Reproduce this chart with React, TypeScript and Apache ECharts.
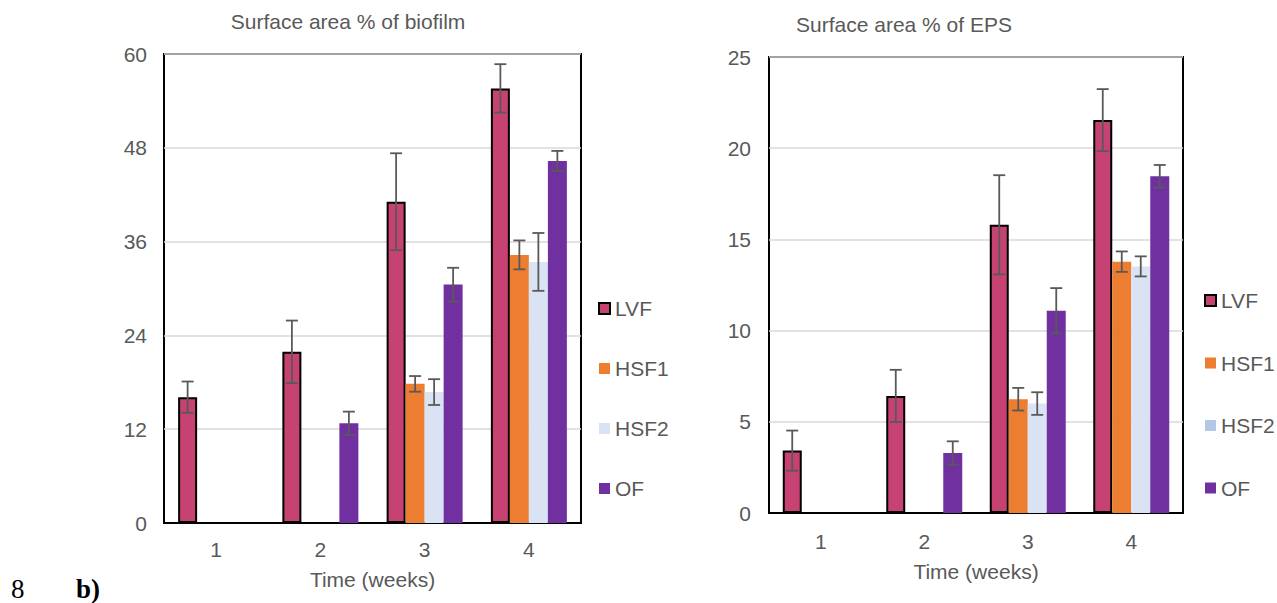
import React, { useEffect, useRef } from "react";
import * as echarts from "echarts";

const weeks = ["1", "2", "3", "4"];
const seriesNames = ["LVF", "HSF1", "HSF2", "OF"];

// Surface area % of biofilm
const bioLVF = [16.1, 21.9, 41.1, 55.6];
const bioHSF1 = [null, null, 17.8, 34.3];
const bioHSF2 = [null, null, 16.75, 33.4];
const bioOF = [null, 12.75, 30.5, 46.3];
const bioErrLVF = [2.0, 4.0, 6.2, 3.1];
const bioErrHSF1 = [null, null, 1.0, 1.85];
const bioErrHSF2 = [null, null, 1.65, 3.7];
const bioErrOF = [null, 1.5, 2.15, 1.3];

// Surface area % of EPS
const epsLVF = [3.42, 6.42, 15.8, 21.54];
const epsHSF1 = [null, null, 6.24, 13.78];
const epsHSF2 = [null, null, 6.0, 13.52];
const epsOF = [null, 3.29, 11.09, 18.46];
const epsErrLVF = [1.1, 1.43, 2.72, 1.7];
const epsErrHSF1 = [null, null, 0.62, 0.56];
const epsErrHSF2 = [null, null, 0.62, 0.55];
const epsErrOF = [null, 0.64, 1.24, 0.62];

const colors = ["#C64272", "#ED7D31", "#DAE3F3", "#7030A0"];
const textColor = "#595959";
const font = "Liberation Sans, Arial, sans-serif";
const BAR_W = 19;

function errData(vals: (number | null)[][], errs: (number | null)[][]) {
  const out: number[][] = [];
  vals.forEach((arr, si) => {
    arr.forEach((v, ci) => {
      const e = errs[si][ci];
      if (v != null && e != null) out.push([ci, v - e, v + e, si]);
    });
  });
  return out;
}

function renderErr(params: any, api: any) {
  const ci = api.value(0);
  const lo = api.value(1);
  const hi = api.value(2);
  const si = api.value(3);
  const x = api.coord([ci, 0])[0] + (si - 1.5) * BAR_W;
  const y1 = api.coord([ci, lo])[1];
  const y2 = api.coord([ci, hi])[1];
  const cap = 6;
  const st = { stroke: "#595959", lineWidth: 1.8 };
  return {
    type: "group",
    children: [
      { type: "line", shape: { x1: x, y1: y1, x2: x, y2: y2 }, style: st },
      { type: "line", shape: { x1: x - cap, y1: y1, x2: x + cap, y2: y1 }, style: st },
      { type: "line", shape: { x1: x - cap, y1: y2, x2: x + cap, y2: y2 }, style: st },
    ],
  };
}

export default function App() {
  const ref = useRef<HTMLDivElement>(null);
  useEffect(() => {
    if (!ref.current) return;
    const chart = echarts.init(ref.current, null, { renderer: "svg" });
    const bioVals = [bioLVF, bioHSF1, bioHSF2, bioOF];
    const epsVals = [epsLVF, epsHSF1, epsHSF2, epsOF];
    const bioErrs = [bioErrLVF, bioErrHSF1, bioErrHSF2, bioErrOF];
    const epsErrs = [epsErrLVF, epsErrHSF1, epsErrHSF2, epsErrOF];

    const barSeries = (vals: (number | null)[][], idx: number) =>
      vals.map((arr, si) => ({
        type: "bar",
        name: seriesNames[si],
        xAxisIndex: idx,
        yAxisIndex: idx,
        data: arr,
        barWidth: BAR_W,
        barGap: "0%",
        itemStyle:
          si === 0
            ? { color: colors[si], borderColor: "#000", borderWidth: 2 }
            : { color: colors[si] },
        z: 2,
      }));

    const yAxisCommon = {
      type: "value",
      min: 0,
      axisLine: { show: false },
      axisTick: { show: false },
      splitLine: { lineStyle: { color: "#D9D9D9", width: 1.5 } },
      axisLabel: { color: textColor, fontSize: 21, fontFamily: font },
    };
    const xAxisCommon = {
      type: "category",
      data: weeks,
      axisTick: { show: false },
      axisLine: { show: true, lineStyle: { color: "#000", width: 2 } },
      name: "Time (weeks)",
      nameLocation: "middle",
      nameTextStyle: { color: textColor, fontSize: 21, fontFamily: font },
    };
    const legendCommon = {
      orient: "vertical",
      icon: "rect",
      itemWidth: 11,
      itemHeight: 11,
      padding: 0,
      textStyle: { color: textColor, fontSize: 21, fontFamily: font, lineHeight: 21 },
      selectedMode: false,
    };

    chart.setOption({
      animation: false,
      title: [
        {
          text: "Surface area % of biofilm",
          left: 348,
          top: 11,
          padding: 0,
          textAlign: "center",
          textStyle: { color: textColor, fontSize: 21, fontWeight: "normal", fontFamily: font },
        },
        {
          text: "Surface area % of EPS",
          left: 904,
          top: 14,
          padding: 0,
          textAlign: "center",
          textStyle: { color: textColor, fontSize: 21, fontWeight: "normal", fontFamily: font },
        },
      ],
      legend: [
        {
          ...legendCommon,
          left: 598,
          top: 298,
          itemGap: 39,
          data: seriesNames,
        },
        {
          ...legendCommon,
          left: 1204,
          top: 290,
          itemGap: 41.5,
          data: [
            { name: "LVF" },
            { name: "HSF1" },
            { name: "HSF2", itemStyle: { color: "#B4C7E7" } },
            { name: "OF" },
          ],
        },
      ],
      grid: [
        { left: 164, top: 54, width: 417, height: 469, show: true, borderColor: "#000", borderWidth: 2, backgroundColor: "transparent" },
        { left: 769, top: 57, width: 414, height: 456, show: true, borderColor: "#000", borderWidth: 2, backgroundColor: "transparent" },
      ],
      xAxis: [
        { ...xAxisCommon, gridIndex: 0, nameGap: 46, axisLabel: { color: textColor, fontSize: 21, fontFamily: font, margin: 16 } },
        { ...xAxisCommon, gridIndex: 1, nameGap: 48, axisLabel: { color: textColor, fontSize: 21, fontFamily: font, margin: 18 } },
      ],
      yAxis: [
        { ...yAxisCommon, gridIndex: 0, max: 60, interval: 12, axisLabel: { ...yAxisCommon.axisLabel, margin: 17 } },
        { ...yAxisCommon, gridIndex: 1, max: 25, interval: 5, axisLabel: { ...yAxisCommon.axisLabel, margin: 18 } },
      ],
      graphic: [
        { type: "text", left: 11, top: 575, style: { text: "8", fontFamily: "Liberation Serif, Times New Roman, serif", fontSize: 27, fill: "#000" } },
        { type: "text", left: 76, top: 575, style: { text: "b)", fontFamily: "Liberation Serif, Times New Roman, serif", fontSize: 27, fontWeight: "bold", fill: "#000" } },
      ],
      series: [
        ...barSeries(bioVals, 0),
        ...barSeries(epsVals, 1),
        {
          type: "custom",
          xAxisIndex: 0,
          yAxisIndex: 0,
          renderItem: renderErr,
          data: errData(bioVals, bioErrs),
          encode: { x: 0, y: [1, 2] },
          z: 5,
          silent: true,
        },
        {
          type: "custom",
          xAxisIndex: 1,
          yAxisIndex: 1,
          renderItem: renderErr,
          data: errData(epsVals, epsErrs),
          encode: { x: 0, y: [1, 2] },
          z: 5,
          silent: true,
        },
      ],
    });
    return () => chart.dispose();
  }, []);
  return (
    <div
      ref={ref}
      style={{ position: "absolute", left: 0, top: 0, width: 1277, height: 603, background: "#fff" }}
    />
  );
}
